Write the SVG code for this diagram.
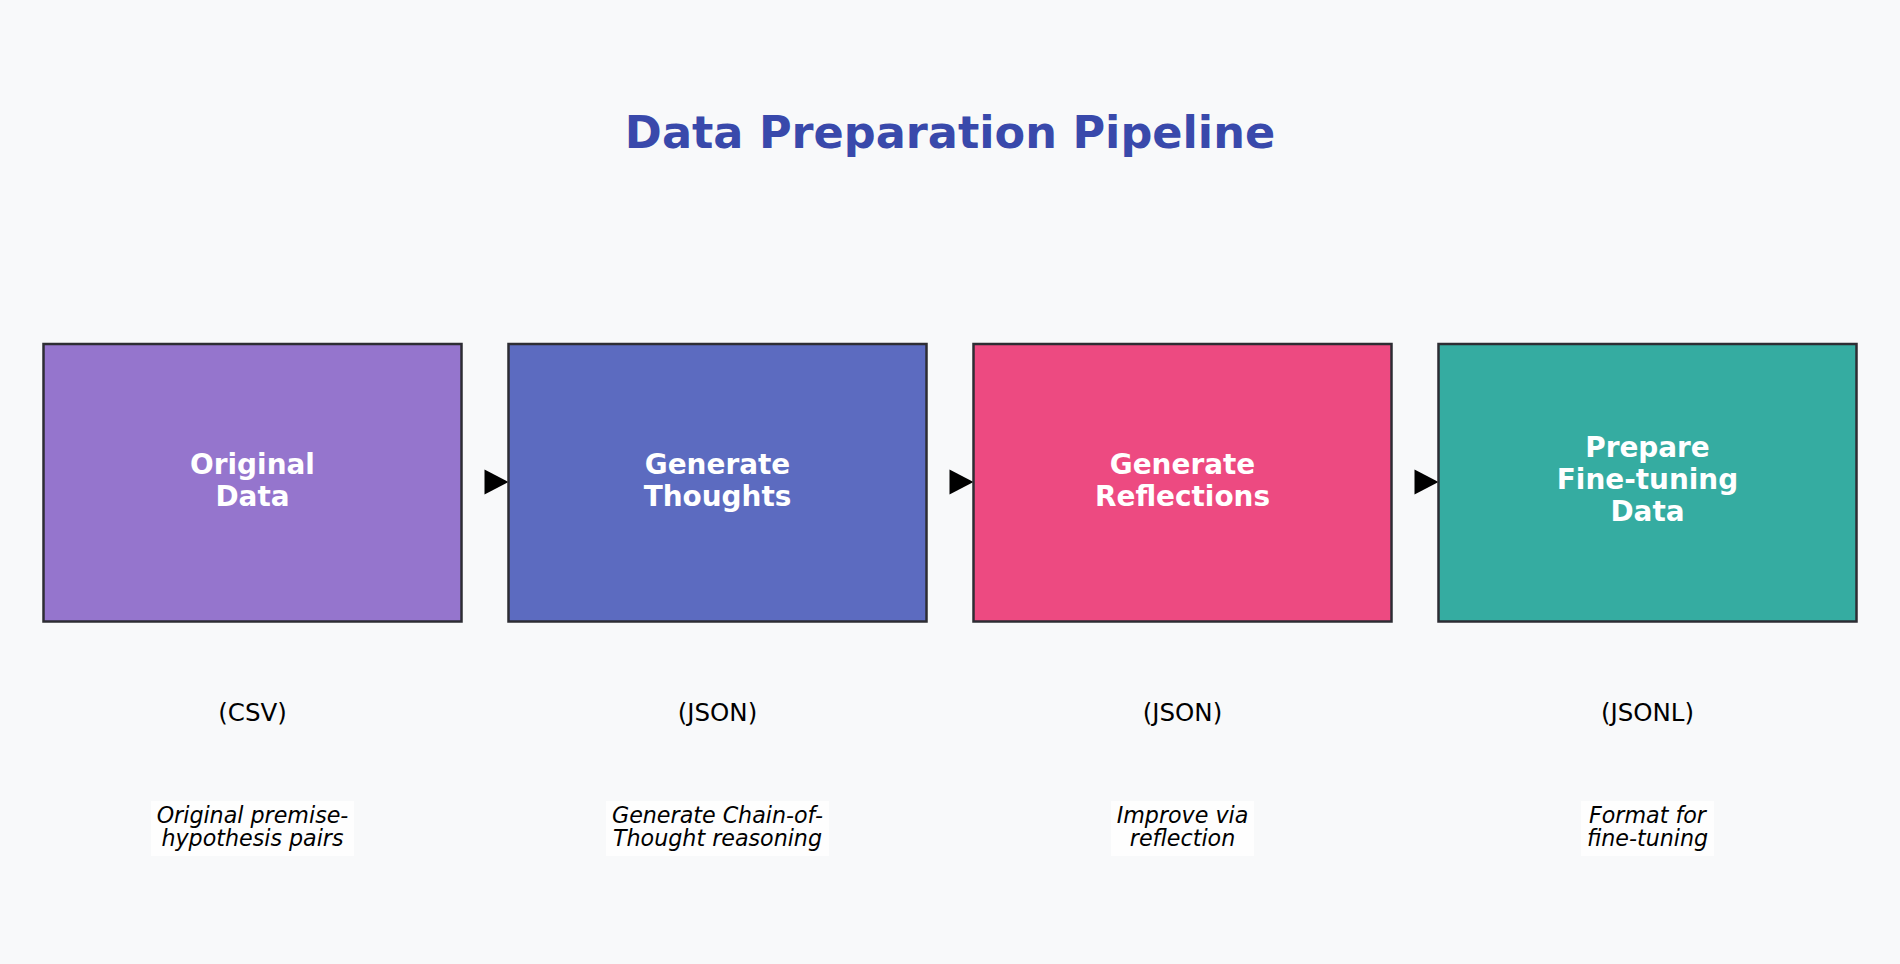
<svg xmlns="http://www.w3.org/2000/svg" width="1900" height="964" viewBox="0 0 1900 964">
<style>
.bg{fill:#f8f9fa}
.box{stroke:#2d2d33;stroke-width:2.5}
.title{font-family:"DejaVu Sans",sans-serif;font-weight:bold;font-size:44.6px;fill:#3949AB;text-anchor:middle}
.lbl{font-family:"DejaVu Sans",sans-serif;font-weight:bold;font-size:27.9px;fill:#ffffff;text-anchor:middle}
.fmt{font-family:"DejaVu Sans",sans-serif;font-size:24.5px;fill:#000;text-anchor:middle}
.desc{font-family:"DejaVu Sans",sans-serif;font-style:italic;font-size:22.2px;fill:#000;text-anchor:middle}
.descbg{fill:#ffffff;opacity:0.8}
.arrow{fill:#000}
</style>
<rect class="bg" x="0" y="0" width="1900" height="964"/>
<text class="title" x="950" y="148">Data Preparation Pipeline</text>
<g id="connectors">
<polygon class="arrow" points="484.5,469.5 508.5,482 484.5,494.5"/>
<polygon class="arrow" points="949.5,469.5 973.5,482 949.5,494.5"/>
<polygon class="arrow" points="1414.5,469.5 1438.5,482 1414.5,494.5"/>
</g>
<g id="node-original-data">
<rect class="box" x="43.5" y="344" width="418" height="277.5" fill="#9575CD"/>
<text class="lbl" x="252.5" y="474">Original</text>
<text class="lbl" x="252.5" y="506">Data</text>
<text class="fmt" x="252.5" y="721">(CSV)</text>
<rect class="descbg" x="151" y="801" width="203" height="55"/>
<text class="desc" x="252.5" y="823">Original premise-</text>
<text class="desc" x="252.5" y="846">hypothesis pairs</text>
</g>
<g id="node-generate-thoughts">
<rect class="box" x="508.5" y="344" width="418" height="277.5" fill="#5C6BC0"/>
<text class="lbl" x="717.5" y="474">Generate</text>
<text class="lbl" x="717.5" y="506">Thoughts</text>
<text class="fmt" x="717.5" y="721">(JSON)</text>
<rect class="descbg" x="606" y="801" width="223" height="55"/>
<text class="desc" x="717.5" y="823">Generate Chain-of-</text>
<text class="desc" x="717.5" y="846">Thought reasoning</text>
</g>
<g id="node-generate-reflections">
<rect class="box" x="973.5" y="344" width="418" height="277.5" fill="#EC407A" fill-opacity="0.95"/>
<text class="lbl" x="1182.5" y="474">Generate</text>
<text class="lbl" x="1182.5" y="506">Reflections</text>
<text class="fmt" x="1182.5" y="721">(JSON)</text>
<rect class="descbg" x="1111" y="801" width="143" height="55"/>
<text class="desc" x="1182.5" y="823">Improve via</text>
<text class="desc" x="1182.5" y="846">reflection</text>
</g>
<g id="node-prepare-finetuning">
<rect class="box" x="1438.5" y="344" width="418" height="277.5" fill="#26A69A" fill-opacity="0.93"/>
<text class="lbl" x="1647.5" y="457">Prepare</text>
<text class="lbl" x="1647.5" y="489">Fine-tuning</text>
<text class="lbl" x="1647.5" y="521">Data</text>
<text class="fmt" x="1647.5" y="721">(JSONL)</text>
<rect class="descbg" x="1581" y="801" width="133" height="55"/>
<text class="desc" x="1647.5" y="823">Format for</text>
<text class="desc" x="1647.5" y="846">fine-tuning</text>
</g>
</svg>
